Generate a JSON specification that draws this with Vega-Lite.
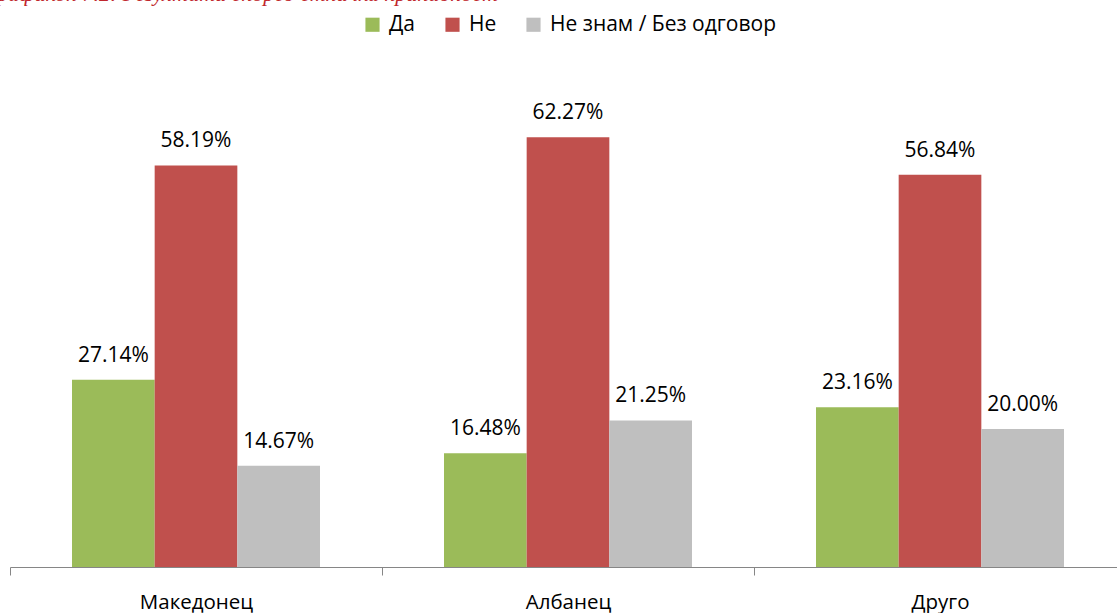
{
  "$schema": "https://vega.github.io/schema/vega-lite/v6.json",
  "autosize": {"type": "none"},
  "width": 1116,
  "height": 483,
  "padding": {"left": 10, "top": 84, "right": 0, "bottom": 46},
  "background": "white",
  "config": {"view": {"stroke": null}},
  "title": {
    "text": "Графикон 7.2: Резултати според етничка припадност",
    "anchor": "start",
    "frame": "group",
    "orient": "top",
    "offset": 2,
    "dx": -25,
    "dy": 11,
    "baseline": "alphabetic",
    "font": "Liberation Serif",
    "fontStyle": "italic",
    "fontWeight": "normal",
    "fontSize": 22,
    "color": "#C0272D"
  },
  "data": {
    "values": [
      {"group": "Македонец", "answer": "Да", "value": 0.2714},
      {"group": "Македонец", "answer": "Не", "value": 0.5819},
      {"group": "Македонец", "answer": "Не знам / Без одговор", "value": 0.1467},
      {"group": "Албанец", "answer": "Да", "value": 0.1648},
      {"group": "Албанец", "answer": "Не", "value": 0.6227},
      {"group": "Албанец", "answer": "Не знам / Без одговор", "value": 0.2125},
      {"group": "Друго", "answer": "Да", "value": 0.2316},
      {"group": "Друго", "answer": "Не", "value": 0.5684},
      {"group": "Друго", "answer": "Не знам / Без одговор", "value": 0.2000}
    ]
  },
  "encoding": {
    "x": {
      "field": "group", "type": "nominal", "sort": null,
      "scale": {"paddingInner": 0, "paddingOuter": 0},
      "axis": {
        "title": null, "labelAngle": 0, "tickBand": "extent",
        "domainColor": "#868686", "tickColor": "#868686", "tickSize": 8,
        "labelFont": "Open Sans", "labelFontSize": 20.5, "labelColor": "#000000",
        "labelBaseline": "alphabetic", "labelPadding": 33
      }
    },
    "xOffset": {
      "field": "answer", "type": "nominal", "sort": null,
      "scale": {"paddingInner": 0, "paddingOuter": 0.75}
    },
    "y": {
      "field": "value", "type": "quantitative",
      "scale": {"domain": [0, 0.7], "nice": false},
      "axis": null
    }
  },
  "layer": [
    {
      "mark": {"type": "bar"},
      "encoding": {
        "color": {
          "field": "answer", "type": "nominal", "sort": null,
          "scale": {
            "domain": ["Да", "Не", "Не знам / Без одговор"],
            "range": ["#9BBB59", "#C0504D", "#BFBFBF"]
          },
          "legend": {
            "title": null, "orient": "none", "direction": "horizontal",
            "legendX": 352, "legendY": -70,
            "symbolType": "square", "symbolSize": 200, "symbolStrokeWidth": 0,
            "labelFont": "Open Sans", "labelFontSize": 21, "labelColor": "#000000",
            "labelLimit": 400, "columnPadding": 26, "labelOffset": 6
          }
        }
      }
    },
    {
      "mark": {"type": "text", "baseline": "alphabetic", "dy": -18, "font": "Open Sans", "fontSize": 21, "color": "#000000"},
      "encoding": {
        "text": {"field": "value", "type": "quantitative", "format": ".2%"}
      }
    }
  ]
}
